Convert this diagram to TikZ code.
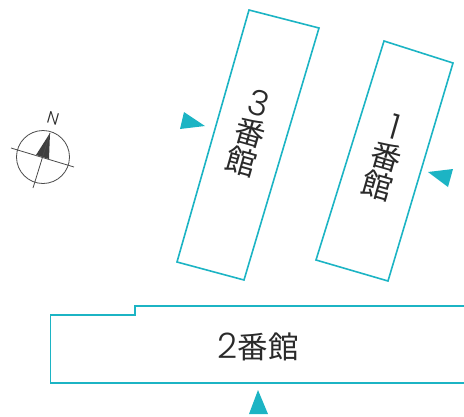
\documentclass[tikz,border=0pt]{standalone}
\usepackage{fontspec}
\setmainfont{Poppins}[UprightFont=* Light]
\newfontfamily\jpfont{Noto Sans CJK JP}
\definecolor{myteal}{HTML}{1CB4C4}
\definecolor{myink}{HTML}{2A2A2A}
\newcommand{\ban}{{\jpfont 番}}
\newcommand{\kan}{{\jpfont 館}}
\newcommand{\digit}[1]{{\fontsize{35}{30}\selectfont #1}}
\tikzset{
  wing/.style={draw=myteal, line width=1.6pt, line join=miter},
  entry/.style={fill=myteal, draw=none},
  compassline/.style={draw=myink!85, line width=.8pt},
  wingname/.style={text=myink, inner sep=0, align=center, font=\fontsize{30.5}{30}\selectfont}
}
\begin{document}
\begin{tikzpicture}[x=1pt,y=-1pt]
\useasboundingbox (0,0) rectangle (464,416);
% buildings
\draw[wing] (249,10) -- (319,28) -- (244,280) -- (177,262) -- cycle;
\draw[wing] (384,41) -- (453,63) -- (388,281) -- (316,260) -- cycle;
\draw[wing] (464,306) -- (135,306) -- (135,315) -- (50.5,315) -- (50.5,383) -- (464,383);
% names
\node[wingname,rotate=-16] (wing3) at (250,133) {\digit{3}\\\ban\\\kan};
\node[wingname,rotate=-16] (wing1) at (386,157) {\digit{1}\\\ban\\\kan};
\node[wingname] (wing2) at (258,347) {\digit{2}\ban\kan};
% entrances
\fill[entry] (184,112) -- (205,126) -- (180,129) -- cycle;
\fill[entry] (428,172) -- (453,169) -- (448,187) -- cycle;
\fill[entry] (258,390) -- (249,414) -- (268,414) -- cycle;
% compass
\coordinate (c) at (43,157);
\fill[myink!90] (50,133) -- (36,155) -- (49,159) -- cycle;
\draw[compassline] (c) circle (26.5);
\draw[compassline] (11,148) -- (74,167);
\draw[compassline] (50,133) -- (33,188);
\node[text=myink,inner sep=0,rotate=-16,font=\fontsize{17}{17}\selectfont] (north) at (53,118) {N};
\end{tikzpicture}
\end{document}
